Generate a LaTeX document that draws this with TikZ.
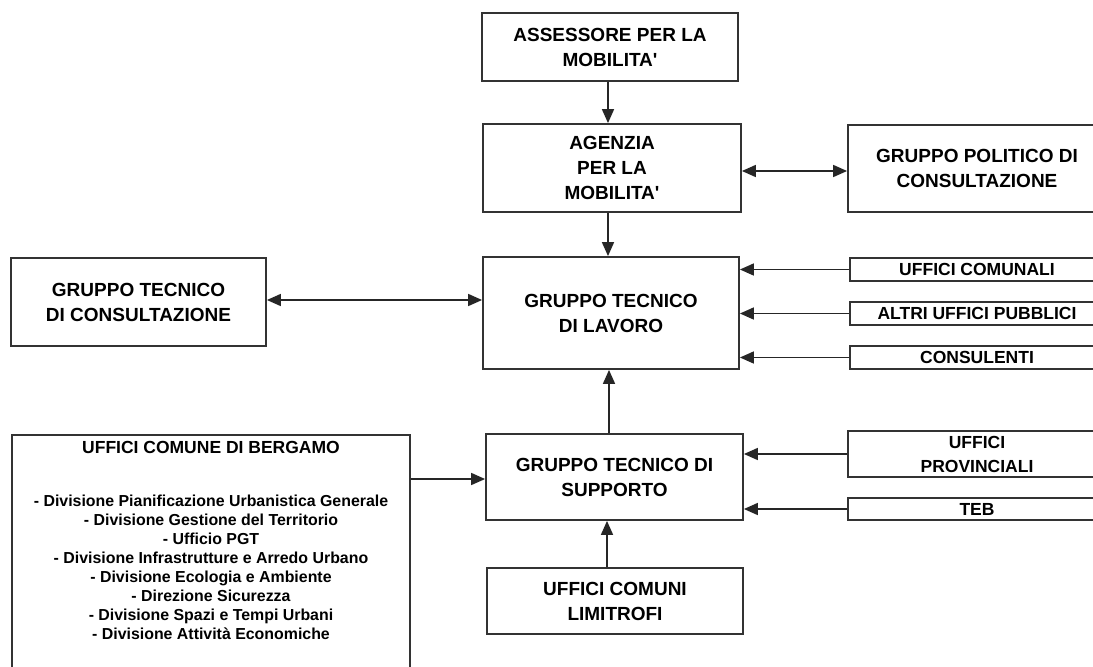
\documentclass[tikz,border=0pt]{standalone}
\usepackage{fontspec}
\setmainfont{Liberation Sans}[Ligatures=TeXOff]
\usetikzlibrary{arrows.meta}
\newcommand\BigTxt{\bfseries\fontsize{19}{25}\selectfont}
\newcommand\MidTxt{\bfseries\fontsize{17.5}{24}\selectfont}
\newcommand\SmallTxt{\bfseries\fontsize{15.9}{19}\selectfont}
\tikzset{
  box/.style={draw=black!80, line width=1.8pt, fill=white, inner sep=0pt, align=center, font=\BigTxt},
  sbox/.style={box, font=\MidTxt},
  arr/.style={-{Triangle[length=14pt,width=12pt]}, line width=1.6pt, draw=black!85},
  darr/.style={{Triangle[length=14pt,width=12pt]}-{Triangle[length=14pt,width=12pt]}, line width=1.6pt, draw=black!85}
}
\begin{document}
\begin{tikzpicture}[x=1pt,y=-1pt]
\useasboundingbox[fill=white] (0,0) rectangle (1093,667);
% main column
\node[box, minimum width=256pt, minimum height=68pt] (ass) at (610,47) {ASSESSORE PER LA\\MOBILITA'};
\node[box, minimum width=258pt, minimum height=88pt] (age) at (612,168) {AGENZIA\\PER LA\\MOBILITA'};
\node[box, minimum width=258pt, minimum height=87pt] (pol) at (977,168.5) {GRUPPO POLITICO DI\\CONSULTAZIONE};
\node[box, minimum width=256pt, minimum height=112pt] (lav) at (611,313) {GRUPPO TECNICO\\DI LAVORO};
\node[box, minimum width=255pt, minimum height=88pt] (con) at (138.5,302) {GRUPPO TECNICO\\DI CONSULTAZIONE};
\node[box, minimum width=257pt, minimum height=86pt] (sup) at (614.5,477) {GRUPPO TECNICO DI\\SUPPORTO};
\node[box, minimum width=256pt, minimum height=66pt] (lim) at (615,601) {UFFICI COMUNI\\LIMITROFI};
% right column
\node[sbox, minimum width=254pt, minimum height=23pt] (uc) at (977,269.5) {UFFICI COMUNALI};
\node[sbox, minimum width=254pt, minimum height=23pt] (aup) at (977,313.5) {ALTRI UFFICI PUBBLICI};
\node[sbox, minimum width=254pt, minimum height=23pt] (cons) at (977,357.5) {CONSULENTI};
\node[sbox, minimum width=258pt, minimum height=46pt] (prov) at (977,454) {UFFICI\\PROVINCIALI};
\node[sbox, minimum width=258pt, minimum height=22pt] (teb) at (977,509) {TEB};
% Bergamo box
\node[box, minimum width=398pt, minimum height=240pt] (berg) at (211,555) {};
\node[anchor=north, inner sep=0pt, font=\MidTxt] (bergtit) at (211,441) {UFFICI COMUNE DI BERGAMO};
\node[anchor=north, inner sep=0pt, align=center, font=\SmallTxt] (berglist) at (211,495)
  {- Divisione Pianificazione Urbanistica Generale\\
   - Divisione Gestione del Territorio\\
   - Ufficio PGT\\
   - Divisione Infrastrutture e Arredo Urbano\\
   - Divisione Ecologia e Ambiente\\
   - Direzione Sicurezza\\
   - Divisione Spazi e Tempi Urbani\\
   - Divisione Attività Economiche};
% connectors
\draw[arr] (ass.south -| 608,0) -- (age.north -| 608,0);
\draw[arr] (age.south -| 608,0) -- (lav.north -| 608,0);
\draw[darr] (age.east |- 0,171) -- (pol.west |- 0,171);
\draw[darr] (con.east |- 0,300) -- (lav.west |- 0,300);
\draw[arr] (uc.west) -- (uc.west -| lav.east);
\draw[arr] (aup.west) -- (aup.west -| lav.east);
\draw[arr] (cons.west) -- (cons.west -| lav.east);
\draw[arr] (sup.north -| 609,0) -- (lav.south -| 609,0);
\draw[arr] (prov.west) -- (prov.west -| sup.east);
\draw[arr] (teb.west) -- (teb.west -| sup.east);
\draw[arr] (lim.north -| 607,0) -- (sup.south -| 607,0);
\draw[arr] (berg.east |- 0,479) -- (sup.west |- 0,479);
\end{tikzpicture}
\end{document}
